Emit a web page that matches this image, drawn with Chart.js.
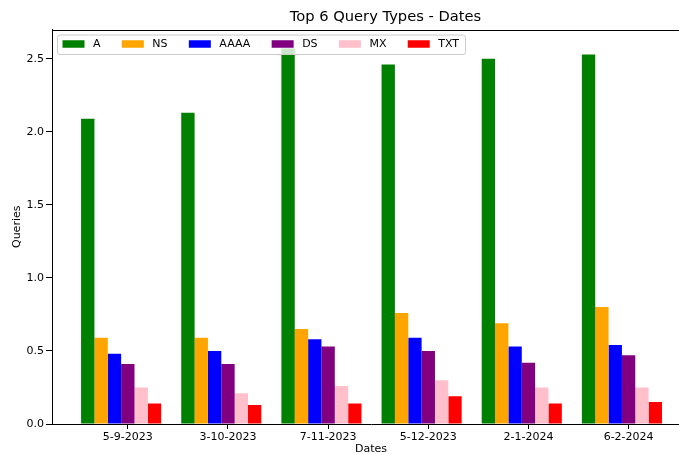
<!DOCTYPE html>
<html>
<head>
<meta charset="utf-8">
<script src="https://cdn.jsdelivr.net/npm/chart.js@4/dist/chart.umd.min.js"></script>
<style>
  html, body { margin: 0; padding: 0; background: #fff; overflow: hidden; }
  #wrap { width: 679px; height: 454px; overflow: hidden; position: relative; }
  canvas { display: block; }
</style>
</head>
<body>
<div id="wrap"><canvas id="c" width="690" height="454"></canvas></div>
<script>
// ---- data ----
const categories = ['5-9-2023', '3-10-2023', '7-11-2023', '5-12-2023', '2-1-2024', '6-2-2024'];
const seriesNames = ['A', 'NS', 'AAAA', 'DS', 'MX', 'TXT'];
const valuesA    = [2.09, 2.13, 2.57, 2.46, 2.50, 2.53];
const valuesNS   = [0.59, 0.59, 0.65, 0.76, 0.69, 0.80];
const valuesAAAA = [0.48, 0.50, 0.58, 0.59, 0.53, 0.54];
const valuesDS   = [0.41, 0.41, 0.53, 0.50, 0.42, 0.47];
const valuesMX   = [0.25, 0.21, 0.26, 0.30, 0.25, 0.25];
const valuesTXT  = [0.14, 0.13, 0.14, 0.19, 0.14, 0.15];
const yTickStep = 0.5;

const seriesValues = [valuesA, valuesNS, valuesAAAA, valuesDS, valuesMX, valuesTXT];
const seriesColors = ['#008000', '#FFA500', '#0000FF', '#800080', '#FFC0CB', '#FF0000'];

const FONT = "'DejaVu Sans', 'Liberation Sans', sans-serif";
Chart.defaults.font.family = FONT;
Chart.defaults.color = '#000';

const toPoints = (vals) => vals.map((v, i) => ({ x: i, y: v }));

const datasets = seriesValues.map((vals, k) => ({
  label: seriesNames[k],
  data: toPoints(vals),
  backgroundColor: seriesColors[k],
  borderWidth: 0
}));
// empty trailing slot so that the group is laid out like the reference (tick under 4th bar)
datasets.push({ label: '', data: categories.map((_, i) => ({ x: i, y: null })), backgroundColor: 'rgba(0,0,0,0)', borderWidth: 0 });

const frameAndLegend = {
  id: 'frameAndLegend',
  afterLayout(chart) {
    // the reference title sits a little right of the axes centre
    const t = chart.titleBlock;
    if (t) { t.left += 14.5; t.right += 14.5; }
  },
  afterDatasetsDraw(chart) {
    const ctx = chart.ctx, ca = chart.chartArea;
    ctx.save();
    // top spine
    ctx.strokeStyle = '#000';
    ctx.lineWidth = 1;
    ctx.beginPath();
    ctx.moveTo(ca.left, Math.round(ca.top) + 0.5);
    ctx.lineTo(ca.right, Math.round(ca.top) + 0.5);
    ctx.stroke();

    // legend box
    const items = chart.data.datasets.filter(d => d.label);
    ctx.font = '11px ' + FONT;
    const boxW = 22, boxH = 7.5, gapText = 8.5, gapItem = 21.3, padL = 5, padR = 6.5;
    let w = padL;
    items.forEach((d, i) => {
      w += boxW + gapText + ctx.measureText(d.label).width + (i < items.length - 1 ? gapItem : padR);
    });
    const fx = Math.round(ca.left) + 5.5, fy = Math.round(ca.top) + 5, fh = 19.5;
    ctx.beginPath();
    ctx.roundRect(fx, fy, w, fh, 2.5);
    ctx.fillStyle = 'rgba(255,255,255,0.8)';
    ctx.fill();
    ctx.strokeStyle = '#cccccc';
    ctx.stroke();
    let x = fx + padL;
    const cy = fy + 9;
    ctx.textBaseline = 'middle';
    ctx.textAlign = 'left';
    items.forEach(d => {
      ctx.fillStyle = d.backgroundColor;
      ctx.fillRect(x, cy - boxH / 2, boxW, boxH);
      x += boxW + gapText;
      ctx.fillStyle = '#000';
      ctx.fillText(d.label, x, cy);
      x += ctx.measureText(d.label).width + gapItem;
    });
    ctx.restore();
  }
};

new Chart(document.getElementById('c'), {
  type: 'bar',
  data: { datasets },
  plugins: [frameAndLegend],
  options: {
    responsive: false,
    animation: false,
    events: [],
    layout: { padding: 0 },
    datasets: { bar: { barPercentage: 1.0, categoryPercentage: 0.9333 } },
    plugins: {
      legend: { display: false },
      tooltip: { enabled: false },
      title: {
        display: true,
        text: 'Top 6 Query Types - Dates',
        fullSize: false,
        color: '#000',
        font: { size: 14.7, weight: 'normal', family: FONT, lineHeight: 1.2 },
        padding: { top: 8, bottom: 3.9 }
      }
    },
    scales: {
      x: {
        type: 'linear',
        offset: false,
        min: -0.757,
        max: 5.613,
        afterBuildTicks: (axis) => { axis.ticks = categories.map((_, i) => ({ value: i })); },
        afterFit: (scale) => { scale.height = 30; },
        ticks: {
          autoSkip: false,
          maxRotation: 0,
          padding: 1.5,
          font: { size: 11 },
          color: '#000',
          callback: (v) => categories[v] ?? ''
        },
        grid: { offset: false, drawOnChartArea: false, drawTicks: true, tickLength: 5, color: '#000' },
        border: { color: '#000', width: 1 },
        title: { display: true, text: 'Dates', color: '#000', font: { size: 11, lineHeight: 1.0 }, padding: { top: 0, bottom: -1 } }
      },
      y: {
        min: 0,
        max: 2.70,
        afterFit: (scale) => { scale.width = 52; },
        ticks: {
          stepSize: yTickStep,
          includeBounds: false,
          padding: 2,
          font: { size: 11 },
          color: '#000',
          callback: (v) => Number(v).toFixed(1)
        },
        grid: { drawOnChartArea: false, drawTicks: true, tickLength: 6, color: '#000' },
        border: { color: '#000', width: 1 },
        title: { display: true, text: 'Queries', color: '#000', font: { size: 11 }, padding: { top: 11, bottom: 0 } }
      }
    }
  }
});
</script>
</body>
</html>
